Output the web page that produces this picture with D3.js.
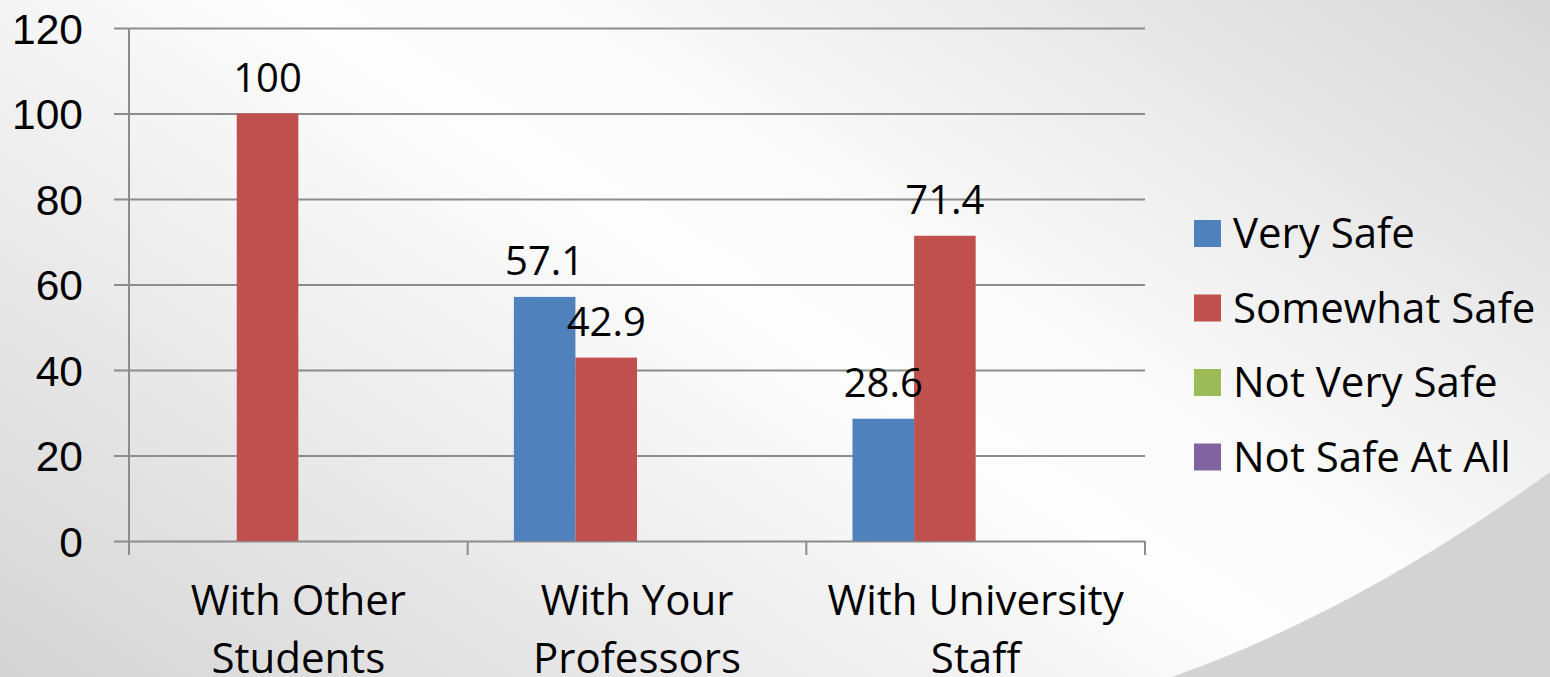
<!DOCTYPE html>
<html lang="en">
<head>
  <meta charset="UTF-8">
  <title>Feeling Safe - Clustered Columns</title>
  <script src="https://d3js.org/d3.v7.min.js"></script>
  <style>
    body { margin: 0; background: #fff; }
    svg { display: block; font-family: 'Open Sans', sans-serif; }
    .grid line { stroke: #8c8c8c; stroke-width: 2; }
    .grid text { font-size: 42.5px; fill: #000; }
    .cat text { font-size: 42px; fill: #000; }
    .val { font-size: 40px; fill: #000; }
    .legend text { font-size: 42px; fill: #000; }
  </style>
</head>
<body>
  <div id="chart"></div>
  <script>
    // data
    const categories = ["With Other Students", "With Your Professors", "With University Staff"];
    const series = ["Very Safe", "Somewhat Safe", "Not Very Safe", "Not Safe At All"];
    const verySafe = [0, 57.1, 28.6];
    const somewhatSafe = [100, 42.9, 71.4];
    const notVerySafe = [0, 0, 0];
    const notSafeAtAll = [0, 0, 0];
    const yTicks = [0, 20, 40, 60, 80, 100, 120];
    const colors = ["#4F81BD", "#C0504D", "#9BBB59", "#8064A2"];

    const values = [verySafe, somewhatSafe, notVerySafe, notSafeAtAll];

    const W = 1550, H = 677;
    const plot = { left: 129, right: 1145, top: 28, bottom: 541 };

    const svg = d3.select("#chart").append("svg")
      .attr("width", W)
      .attr("height", H);

    // background: soft diagonal grey gradient + swoosh bottom right
    const defs = svg.append("defs");
    const grad = defs.append("linearGradient")
      .attr("id", "bg")
      .attr("gradientUnits", "userSpaceOnUse")
      .attr("x1", 664).attr("y1", 1120)
      .attr("x2", 1454).attr("y2", -95);
    grad.append("stop").attr("offset", 0).attr("stop-color", "#d4d4d4");
    grad.append("stop").attr("offset", 0.5).attr("stop-color", "#fdfdfd");
    grad.append("stop").attr("offset", 0.6).attr("stop-color", "#fbfbfb");
    grad.append("stop").attr("offset", 1).attr("stop-color", "#d6d6d6");

    svg.append("rect")
      .attr("width", W).attr("height", H)
      .attr("fill", "url(#bg)");
    svg.append("path")
      .attr("d", "M1172,677 Q1360,610 1550,472 L1550,677 Z")
      .attr("fill", "#d3d3d3");

    // scales
    const x = d3.scaleBand()
      .domain(categories)
      .range([plot.left, plot.right])
      .padding(0);

    const xs = d3.scaleBand()
      .domain(series)
      .range([0, x.bandwidth()])
      .paddingInner(0)
      .paddingOuter(0.75);

    const y = d3.scaleLinear()
      .domain([0, 120])
      .range([plot.bottom, plot.top]);

    // gridlines + y labels (ticks run from right edge back past the axis)
    const gridLen = plot.right - plot.left + 15;
    svg.append("g")
      .attr("class", "grid")
      .attr("transform", `translate(${plot.right},0)`)
      .call(d3.axisLeft(y).tickValues(yTicks).tickSize(gridLen).tickPadding(31))
      .call(g => g.select(".domain").remove())
      .call(g => g.selectAll("text").attr("dy", "0.36em"));

    // y axis line
    svg.append("line")
      .attr("x1", plot.left).attr("x2", plot.left)
      .attr("y1", plot.top).attr("y2", plot.bottom)
      .attr("stroke", "#8c8c8c").attr("stroke-width", 2);

    // x boundary ticks
    const edges = categories.map(c => x(c)).concat([plot.right]);
    svg.append("g")
      .selectAll("line")
      .data(edges)
      .join("line")
      .attr("x1", d => d).attr("x2", d => d)
      .attr("y1", plot.bottom).attr("y2", plot.bottom + 14)
      .attr("stroke", "#8c8c8c").attr("stroke-width", 2);

    // category labels, wrapped onto two lines
    const cat = svg.append("g").attr("class", "cat");
    cat.selectAll("text")
      .data(categories)
      .join("text")
      .attr("text-anchor", "middle")
      .attr("x", d => x(d) + x.bandwidth() / 2)
      .attr("y", 615)
      .each(function (d) {
        const words = d.split(" ");
        const lines = [words.slice(0, 2).join(" "), words.slice(2).join(" ")];
        const t = d3.select(this);
        lines.forEach((ln, i) => {
          t.append("tspan")
            .attr("x", x(d) + x.bandwidth() / 2)
            .attr("dy", i === 0 ? 0 : 58)
            .text(ln);
        });
      });

    // bars
    const flat = [];
    categories.forEach((c, ci) => {
      series.forEach((s, si) => {
        flat.push({ cat: c, s: s, si: si, v: values[si][ci] });
      });
    });

    svg.append("g")
      .selectAll("rect")
      .data(flat.filter(d => d.v > 0))
      .join("rect")
      .attr("x", d => x(d.cat) + xs(d.s))
      .attr("y", d => y(d.v))
      .attr("width", xs.bandwidth())
      .attr("height", d => y(0) - y(d.v))
      .attr("fill", d => colors[d.si]);

    // value labels
    svg.append("g")
      .selectAll("text")
      .data(flat.filter(d => d.v > 0))
      .join("text")
      .attr("class", "val")
      .attr("text-anchor", "middle")
      .attr("x", d => x(d.cat) + xs(d.s) + xs.bandwidth() / 2)
      .attr("y", d => y(d.v) - 22)
      .text(d => d.v);

    // legend
    const legend = svg.append("g")
      .attr("class", "legend")
      .attr("transform", "translate(1194,220)");

    const item = legend.selectAll("g")
      .data(series)
      .join("g")
      .attr("transform", (d, i) => `translate(0,${i * 74.5})`);

    item.append("rect")
      .attr("width", 27).attr("height", 27)
      .attr("fill", (d, i) => colors[i]);

    item.append("text")
      .attr("x", 39)
      .attr("y", 28)
      .text(d => d);
  </script>
</body>
</html>
